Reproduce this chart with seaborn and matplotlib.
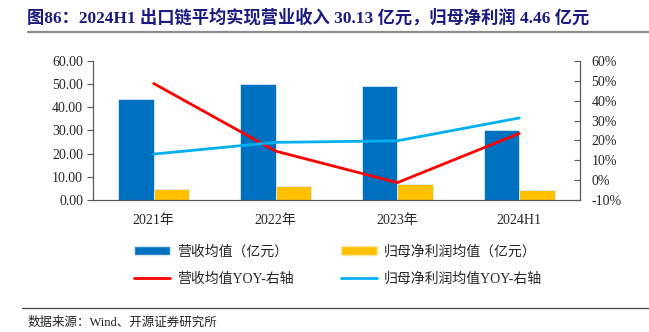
import numpy as np
import pandas as pd
import matplotlib
matplotlib.use("Agg")
import matplotlib.pyplot as plt
from matplotlib.lines import Line2D
from matplotlib.patches import Patch
import seaborn as sns

categories = ["2021年", "2022年", "2023年", "2024H1"]
revenue = [43.5, 49.9, 49.1, 30.13]
profit = [4.9, 5.9, 6.9, 4.46]
revenue_yoy = [48.7, 14.6, -1.3, 23.5]
profit_yoy = [13.1, 19.0, 19.8, 31.3]

s_rev = "营收均值（亿元）"
s_pro = "归母净利润均值（亿元）"
s_rev_yoy = "营收均值YOY-右轴"
s_pro_yoy = "归母净利润均值YOY-右轴"

sns.set_theme(style="white")
FAM = ["Liberation Serif", "Noto Sans CJK SC"]
plt.rcParams["font.family"] = FAM
plt.rcParams["axes.unicode_minus"] = False

df = pd.DataFrame({
    "cat": categories * 2,
    "val": revenue + profit,
    "series": [s_rev] * len(categories) + [s_pro] * len(categories),
})

fig = plt.figure(figsize=(6.49, 3.32), dpi=100)
ax = fig.add_axes([0.143, 0.398, 0.751, 0.418])

sns.barplot(data=df, x="cat", y="val", hue="series", order=categories,
            palette=["#0070C0", "#FFC000"], saturation=1, width=0.58, ax=ax,
            edgecolor="#dce9f5", linewidth=0.6, legend=False)

ax2 = ax.twinx()
xpos = np.arange(len(categories))
sns.lineplot(x=xpos, y=revenue_yoy, color="#FF0000", lw=2, ax=ax2)
sns.lineplot(x=xpos, y=profit_yoy, color="#00B0F0", lw=2, ax=ax2)

ax.set_xlim(-0.5, len(categories) - 0.5)
ax.set_ylim(0, 60)
ax.set_yticks(np.arange(0, 61, 10))
ax.set_yticklabels([f"{v:.2f}" for v in np.arange(0, 61, 10)], fontsize=10)
ax2.set_ylim(-10, 60)
ax2.set_yticks(np.arange(-10, 61, 10))
ax2.set_yticklabels([f"{v}%" for v in range(-10, 61, 10)], fontsize=10)
ax.set_xlabel("")
ax.set_ylabel("")
ax2.set_ylabel("")

ax.set_xticks(xpos)
ax.set_xticklabels(categories, fontsize=10)
ax.tick_params(axis="x", length=0, pad=10)
# boundary ticks between categories
ax.set_xticks(np.arange(0.5, len(categories) - 1, 1.0), minor=True)
ax.tick_params(axis="x", which="minor", direction="in", length=4, color="#595959", width=0.8)
ax.tick_params(axis="y", direction="out", length=4, color="#595959", width=0.8, pad=3)
ax2.tick_params(axis="y", direction="in", length=4, color="#595959", width=0.8, pad=8)

for a in (ax, ax2):
    a.spines["top"].set_visible(False)
    for s in ("left", "right", "bottom"):
        a.spines[s].set_color("#595959")
        a.spines[s].set_linewidth(0.8)
ax.grid(False)
ax2.grid(False)

handles = [
    Patch(facecolor="#0070C0", edgecolor="#dce9f5"),
    Line2D([], [], color="#FF0000", lw=2),
    Patch(facecolor="#FFC000", edgecolor="#ffe9a8"),
    Line2D([], [], color="#00B0F0", lw=2),
]
labels = [s_rev, s_rev_yoy, s_pro, s_pro_yoy]
fig.legend(handles, labels, ncol=2, loc="upper left", bbox_to_anchor=(0.187, 0.3),
           frameon=False, fontsize=10, handlelength=2.6, handleheight=0.7,
           columnspacing=3.4, labelspacing=1.0, handletextpad=0.5)

fig.text(0.042, 0.948, "图86：2024H1 出口链平均实现营业收入 30.13 亿元，归母净利润 4.46 亿元",
         fontsize=12.4, fontweight="bold", color="#1a1a80", va="center", ha="left")
fig.add_artist(Line2D([0.043, 1.0], [0.905, 0.905], color="#8c8c8c", lw=1.6))
fig.add_artist(Line2D([0.034, 1.0], [0.072, 0.072], color="#404040", lw=0.9))
fig.text(0.042, 0.028, "数据来源：Wind、开源证券研究所", fontsize=9, color="#222222",
         va="center", ha="left")

fig.savefig("out.png", dpi=100)
